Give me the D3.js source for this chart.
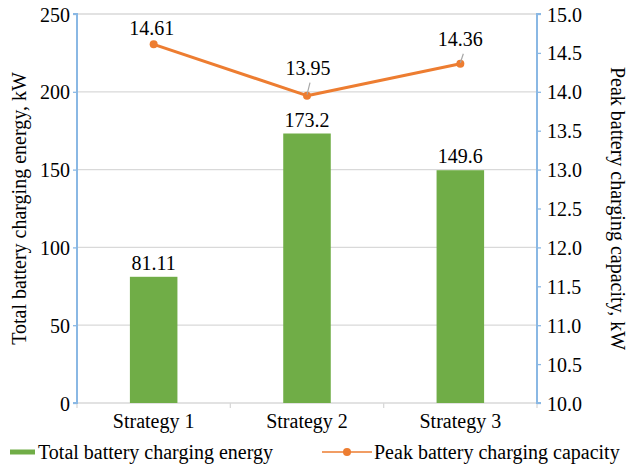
<!DOCTYPE html>
<html>
<head>
<meta charset="utf-8">
<script src="https://cdn.jsdelivr.net/npm/d3@7"></script>
</head>
<body style="margin:0;padding:0;background:#fff">
<svg id="chart" width="635" height="471" font-family="Liberation Serif, Tinos, serif" style="display:block"></svg>
<script>
// Charging results per strategy
const categories = ["Strategy 1", "Strategy 2", "Strategy 3"];
const totalEnergy = [81.11, 173.2, 149.6];      // kW, bars (left axis)
const peakCapacity = [14.61, 13.95, 14.36];     // kW, line (right axis)
const leftTicks = [0, 50, 100, 150, 200, 250];
const rightTicks = [10.0, 10.5, 11.0, 11.5, 12.0, 12.5, 13.0, 13.5, 14.0, 14.5, 15.0];

const FONT = "Liberation Serif";
const chart = d3.select("#chart");
const m = { left: 77, right: 98, top: 14, bottom: 68 };
const W = 635, H = 471;
const plotW = W - m.left - m.right, plotH = H - m.top - m.bottom;

const green = "#70ad47", orange = "#ed7d31", axisBlue = "#8ab8e4", grid = "#d9d9d9";

const x = d3.scaleBand().domain(categories).range([m.left, m.left + plotW]).paddingInner(0.69).paddingOuter(0.345);
const xBand = d3.scaleBand().domain(categories).range([m.left, m.left + plotW]);
const yL = d3.scaleLinear().domain([0, 250]).range([m.top + plotH, m.top]);
const yR = d3.scaleLinear().domain([10, 15]).range([m.top + plotH, m.top]);

function label(sel) {
  return sel.append("text").attr("font-family", FONT).attr("font-size", 20).attr("fill", "#000");
}

// gridlines
chart.append("g").selectAll("line").data(leftTicks.slice(1)).join("line")
  .attr("x1", m.left).attr("x2", m.left + plotW)
  .attr("y1", d => yL(d)).attr("y2", d => yL(d))
  .attr("stroke", grid).attr("stroke-width", 1.3);

// x axis (gray baseline with category-boundary ticks)
const xAxis = chart.append("g").attr("transform", `translate(0,${m.top + plotH})`);
xAxis.append("line").attr("x1", m.left).attr("x2", m.left + plotW).attr("stroke", grid).attr("stroke-width", 1.3);
const bounds = categories.map(c => xBand(c)).concat([m.left + plotW]);
xAxis.selectAll("line.tk").data(bounds).join("line").attr("class", "tk")
  .attr("x1", d => d).attr("x2", d => d).attr("y1", 0).attr("y2", 5)
  .attr("stroke", grid).attr("stroke-width", 1.3);
categories.forEach(c => {
  label(xAxis).attr("x", xBand(c) + xBand.bandwidth() / 2).attr("y", 25)
    .attr("text-anchor", "middle").text(c);
});

// bars
chart.append("g").selectAll("rect").data(totalEnergy).join("rect")
  .attr("x", (d, i) => x(categories[i])).attr("width", x.bandwidth())
  .attr("y", d => yL(d)).attr("height", d => yL(0) - yL(d))
  .attr("fill", green);
totalEnergy.forEach((v, i) => {
  label(chart).attr("x", x(categories[i]) + x.bandwidth() / 2).attr("y", yL(v) - 7)
    .attr("text-anchor", "middle").text(v);
});

// left axis
const gL = chart.append("g").attr("transform", `translate(${m.left},0)`)
  .call(d3.axisLeft(yL).tickValues(leftTicks).tickSize(4).tickPadding(3).tickFormat(d3.format("d")))
  .attr("font-family", FONT);
gL.select(".domain").attr("stroke", axisBlue).attr("stroke-width", 2).attr("d", `M-4,${yL(0)}H0V${yL(250)}H-4`);
gL.selectAll(".tick line").attr("stroke", axisBlue).attr("stroke-width", 1.3);
gL.selectAll(".tick text").attr("font-size", 20).attr("font-family", FONT).attr("fill", "#000").attr("dy", "0.35em");

// right axis
const gR = chart.append("g").attr("transform", `translate(${m.left + plotW},0)`)
  .call(d3.axisRight(yR).tickValues(rightTicks).tickSize(4).tickPadding(6).tickFormat(d3.format(".1f")))
  .attr("font-family", FONT);
gR.select(".domain").attr("stroke", axisBlue).attr("stroke-width", 2).attr("d", `M4,${yR(10)}H0V${yR(15)}H4`);
gR.selectAll(".tick line").attr("stroke", axisBlue).attr("stroke-width", 1.3);
gR.selectAll(".tick text").attr("font-size", 20).attr("font-family", FONT).attr("fill", "#000").attr("dy", "0.35em");

// axis titles
label(chart).attr("transform", `translate(26,${m.top + plotH / 2}) rotate(-90)`)
  .attr("text-anchor", "middle").text("Total battery charging energy, kW");
label(chart).attr("transform", `translate(611,${m.top + plotH / 2}) rotate(90)`)
  .attr("text-anchor", "middle").text("Peak battery charging capacity, kW");

// line series
const cx = i => xBand(categories[i]) + xBand.bandwidth() / 2;
const line = d3.line().x((d, i) => cx(i)).y(d => yR(d));
chart.append("path").datum(peakCapacity).attr("d", line)
  .attr("fill", "none").attr("stroke", orange).attr("stroke-width", 3).attr("stroke-linejoin", "round");
chart.append("g").selectAll("circle").data(peakCapacity).join("circle")
  .attr("cx", (d, i) => cx(i)).attr("cy", d => yR(d)).attr("r", 4).attr("fill", orange);

// line labels (with leader lines where offset)
const lblOff = [{ dx: -2, dy: -9, lead: false }, { dx: 1, dy: -21, lead: true }, { dx: 0, dy: -18, lead: true }];
peakCapacity.forEach((v, i) => {
  const px = cx(i), py = yR(v), o = lblOff[i];
  if (o.lead) {
    chart.append("line").attr("x1", px + 3).attr("y1", py + o.dy + 8).attr("x2", px).attr("y2", py - 1)
      .attr("stroke", "#a6a6a6").attr("stroke-width", 1.2);
  }
  label(chart).attr("x", px + o.dx).attr("y", py + o.dy).attr("text-anchor", "middle")
    .text(d3.format(".2f")(v));
});

// legend
const lg = chart.append("g").attr("transform", "translate(0,452)");
lg.append("line").attr("x1", 10).attr("x2", 35).attr("y1", 0).attr("y2", 0).attr("stroke", green).attr("stroke-width", 5);
label(lg).attr("x", 38).attr("y", 7).text("Total battery charging energy");
lg.append("line").attr("x1", 322).attr("x2", 372).attr("y1", 0).attr("y2", 0).attr("stroke", orange).attr("stroke-width", 1.5);
lg.append("circle").attr("cx", 347).attr("cy", 0).attr("r", 4).attr("fill", orange);
label(lg).attr("x", 374).attr("y", 7).text("Peak battery charging capacity");
</script>
</body>
</html>
